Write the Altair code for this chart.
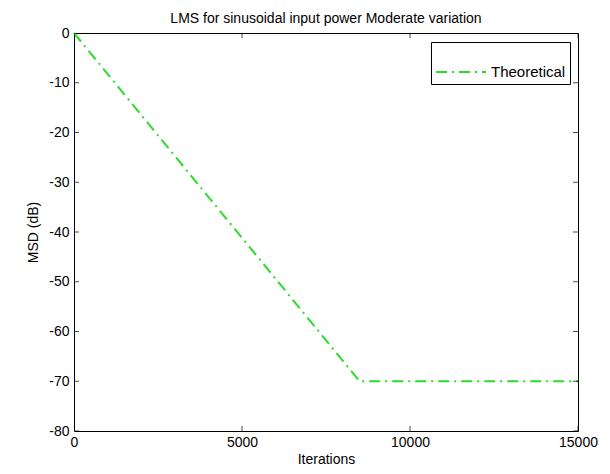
import altair as alt
import pandas as pd

# Data
iterations = [0, 8500, 15000]
msd_db = [0, -70, -70]
series = ["Theoretical", "Theoretical", "Theoretical"]

x_ticks = [0, 5000, 10000, 15000]
y_ticks = [0, -10, -20, -30, -40, -50, -60, -70, -80]

line_df = pd.DataFrame({"Iterations": iterations, "MSD": msd_db, "Series": series})
xt_df = pd.DataFrame({"x": x_ticks})
yt_df = pd.DataFrame({"y": y_ticks})

FONT = "Liberation Sans"
GREEN = "#2bdc2b"
DASH = [11, 5, 2, 5]

xscale = alt.Scale(domain=[0, 15000], nice=False, zero=False)
yscale = alt.Scale(domain=[-80, 0], nice=False, zero=False)

line = alt.Chart(line_df).mark_line(strokeDash=DASH, strokeWidth=2).encode(
    x=alt.X("Iterations:Q", scale=xscale,
            axis=alt.Axis(values=x_ticks, title="Iterations",
                          labelExpr="toString(datum.value)",
                          tickSize=0, labelPadding=4, titlePadding=3,
                          domain=False, grid=False, labelFlush=False)),
    y=alt.Y("MSD:Q", scale=yscale,
            axis=alt.Axis(values=y_ticks, title="MSD (dB)",
                          labelExpr="toString(datum.value)",
                          tickSize=0, labelPadding=5, titlePadding=8,
                          domain=False, grid=False, labelFlush=False)),
    color=alt.Color("Series:N",
                    scale=alt.Scale(domain=["Theoretical"], range=[GREEN]),
                    legend=alt.Legend(title=None, orient="none",
                                      legendX=357, legendY=9)),
)

# Inward ticks on all four sides (MATLAB style), clipped to the plot area
xt_bottom = alt.Chart(xt_df).mark_tick(orient="vertical", size=10, thickness=1,
                                       color="black", clip=True).encode(
    x=alt.X("x:Q", scale=xscale), y=alt.datum(-80, scale=yscale))
xt_top = alt.Chart(xt_df).mark_tick(orient="vertical", size=10, thickness=1,
                                    color="black", clip=True).encode(
    x=alt.X("x:Q", scale=xscale), y=alt.datum(0))
yt_left = alt.Chart(yt_df).mark_tick(orient="horizontal", size=10, thickness=1,
                                     color="black", clip=True).encode(
    y=alt.Y("y:Q", scale=yscale), x=alt.datum(0))
yt_right = alt.Chart(yt_df).mark_tick(orient="horizontal", size=10, thickness=1,
                                      color="black", clip=True).encode(
    y=alt.Y("y:Q", scale=yscale), x=alt.datum(15000))

chart = alt.layer(line, xt_bottom, xt_top, yt_left, yt_right).properties(
    width=504,
    height=398,
    title=alt.Title("LMS for sinusoidal input power Moderate variation",
                    fontSize=14, font=FONT, fontWeight="normal",
                    color="black", offset=8, dy=8),
    autosize=alt.AutoSizeParams(type="none"),
    padding={"left": 66, "top": 25, "right": 24, "bottom": 35},
).configure_view(
    stroke="black", strokeWidth=1
).configure_axis(
    labelFont=FONT, labelFontSize=14, labelColor="black",
    titleFont=FONT, titleFontSize=14, titleColor="black", titleFontWeight="normal",
).configure_legend(
    strokeColor="black", fillColor="white", padding=4,
    symbolType="stroke", symbolSize=2500, symbolStrokeWidth=2,
    symbolDash=DASH, labelFont=FONT, labelFontSize=15, labelColor="black",
    labelOffset=4, cornerRadius=0,
)

chart.save("out.html", embed_options={"renderer": "svg", "actions": False})
